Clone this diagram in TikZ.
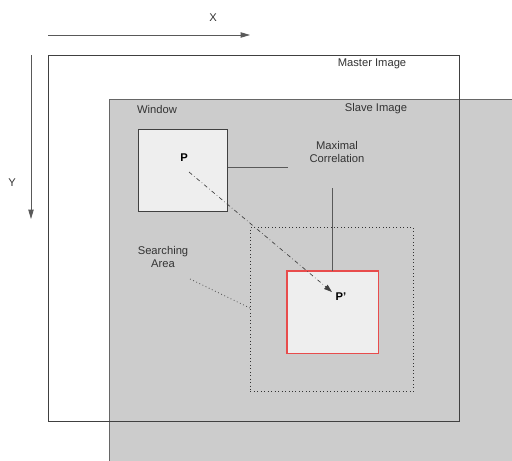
\documentclass[tikz,border=0pt]{standalone}
\usepackage{fontspec}
\setmainfont{Liberation Sans}
\usetikzlibrary{arrows.meta}
\definecolor{slavegray}{HTML}{CCCCCC}
\definecolor{boxfill}{HTML}{EEEEEE}
\definecolor{redline}{HTML}{E84C4C}
\definecolor{txt}{HTML}{333333}
\begin{document}
\begin{tikzpicture}[x=0.75pt,y=-0.75pt,
  lbl/.style={font=\fontsize{8.4}{9.8}\selectfont, text=txt, inner sep=0pt, align=center},
  bold/.style={font=\fontsize{8.4}{9.8}\selectfont\bfseries, inner sep=0pt},
  frame/.style={draw=black!75, line width=0.6pt},
  conn/.style={draw=black!65, line width=0.6pt}]
\useasboundingbox (0,0) rectangle (512,461);
\fill[white] (0,0) rectangle (512,461);
% slave image
\node[fill=slavegray, draw=black!60, line width=0.5pt, minimum width=410*0.75pt, minimum height=370*0.75pt, anchor=north west, inner sep=0pt] (slave) at (109,99) {};
\fill[white] (512,0) rectangle (530,470);
\fill[white] (0,461) rectangle (530,470);
% master image
\draw[frame] (48,55) rectangle (459,421);
\coordinate (master) at (48,55);
% axes
\coordinate (xs) at (48,35); \coordinate (xe) at (250,35);
\draw[conn, -{Triangle[length=7pt,width=4pt]}] (xs) -- (xe);
\node[lbl] (xl) at (213,18) {X};
\coordinate (ys) at (31,55); \coordinate (ye) at (31,219);
\draw[conn, -{Triangle[length=7pt,width=4pt]}] (ys) -- (ye);
\node[lbl] (yl) at (12,183) {Y};
\node[lbl] (mlab) at (372,64) {Master Image};
\node[lbl] (slab) at (376,109) {Slave Image};
\node[lbl] (wlab) at (157,109) {Window};
% window
\node[frame, fill=boxfill, minimum width=89*0.75pt, minimum height=82*0.75pt, anchor=north west, inner sep=0pt] (win) at (138,129) {};
\node[bold] (P) at (184,158) {P};
% searching area
\node[draw=black!80, dotted, line width=0.6pt, minimum width=163*0.75pt, minimum height=164*0.75pt, anchor=north west, inner sep=0pt] (search) at (250,227) {};
% matched window
\node[fill=boxfill, minimum width=91*0.75pt, minimum height=82*0.75pt, anchor=north west, inner sep=0pt] (match) at (287,271) {};
\draw[draw=redline, line width=1.2pt] (match.north west) rectangle (match.south east);
\node[bold] (Pp) at (341,297) {P'};
% labels
\node[lbl] (maxc) at (337,152) {Maximal\\Correlation};
\node[lbl] (sarea) at (163,257) {Searching\\Area};
% connectors
\coordinate (c1) at (288,167);
\draw[conn] (win.east |- c1) -- (c1);
\coordinate (c2) at (332,188);
\draw[conn] (c2) -- (c2 |- match.north);
\coordinate (c3) at (190,279);
\draw[draw=black!70, dotted, line width=0.6pt] (c3) -- (search.west |- 0,308);
\coordinate (ps) at (189,172);
\draw[draw=black!75, dash dot, line width=0.5pt, -{Triangle[length=6pt,width=4pt]}] (ps) -- (332,292);
\end{tikzpicture}
\end{document}
